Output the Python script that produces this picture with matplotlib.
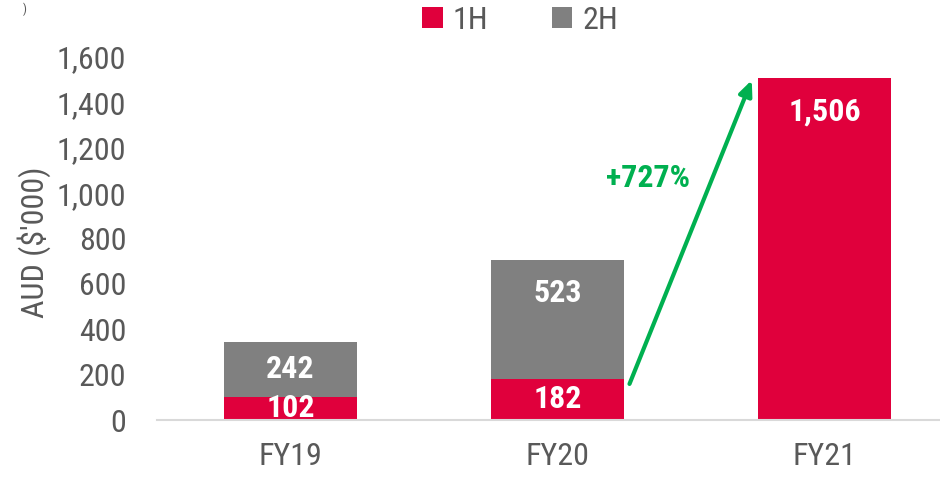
import matplotlib
matplotlib.use('Agg')
import numpy as np
from matplotlib import pyplot as plt

# chart data
years = ['FY19', 'FY20', 'FY21']
h1 = [102, 182, 1506]
h2 = [242, 523, 0]
growth_label = '+727%'
yticks = [0, 200, 400, 600, 800, 1000, 1200, 1400, 1600]

RED = '#E0003C'
GREY = '#808080'
GREEN = '#00B050'
TXT = '#595959'

plt.rcParams['font.family'] = ['Roboto Condensed', 'Roboto', 'DejaVu Sans']

fig = plt.figure(figsize=(9.4, 4.78), dpi=100)
ax = fig.add_axes([0.167, 0.1213, 0.852, 0.7594])

x = np.arange(len(years))
b1 = ax.bar(x, h1, width=0.5, color=RED, label='1H', zorder=2)
b2 = ax.bar(x, h2, width=0.5, bottom=h1, color=GREY, label='2H', zorder=2)

# data labels: centred in small segments, inside end for tall ones
def put_label(xi, base, val):
    if val <= 0:
        return
    if val > 400:
        ax.annotate(f'{val:,}', (xi, base + val), xytext=(0, -24), textcoords='offset points',
                    ha='center', va='center', color='white', fontsize=23, fontweight='bold', zorder=3)
    else:
        ax.text(xi, base + val / 2, f'{val:,}', ha='center', va='center',
                color='white', fontsize=23, fontweight='bold', zorder=3)

for i in range(len(years)):
    put_label(x[i], 0, h1[i])
    put_label(x[i], h1[i], h2[i])

# growth arrow FY20 -> FY21
ax.annotate('', xy=(1.728, 1498), xytext=(1.27, 159),
            arrowprops=dict(arrowstyle='-|>,head_length=0.9,head_width=0.4', color=GREEN, lw=3,
                            shrinkA=0, shrinkB=0), zorder=4)
ax.text(1.339, 1066, growth_label, ha='center', va='center', color=GREEN,
        fontsize=23, fontweight='bold')

ax.set_xlim(-0.5, 2.5)
ax.set_ylim(0, 1600)
ax.set_yticks(yticks)
ax.set_yticklabels([f'{v:,}' for v in yticks])
ax.set_xticks(x)
ax.set_xticklabels(years)
ax.tick_params(axis='both', length=0, labelsize=23, colors=TXT)
ax.tick_params(axis='y', pad=22)
ax.tick_params(axis='x', pad=16)
for s in ['top', 'right', 'left']:
    ax.spines[s].set_visible(False)
ax.spines['bottom'].set_color('#D9D9D9')
ax.spines['bottom'].set_linewidth(1.5)
ax.set_ylabel("AUD ($'000)", fontsize=23, color=TXT)
ax.yaxis.set_label_coords(-0.132, 0.49)

fig.legend(handles=[b1, b2], labels=['1H', '2H'], loc='center', bbox_to_anchor=(0.553, 0.958),
           ncol=2, frameon=False, fontsize=23, labelcolor=TXT, handlelength=0.65, handleheight=0.65,
           handletextpad=0.3, columnspacing=2.0)

fig.text(0.026, 0.995, ')', ha='center', va='top', fontsize=9, color=TXT)

plt.savefig('out.png', dpi=100)
plt.close('all')
